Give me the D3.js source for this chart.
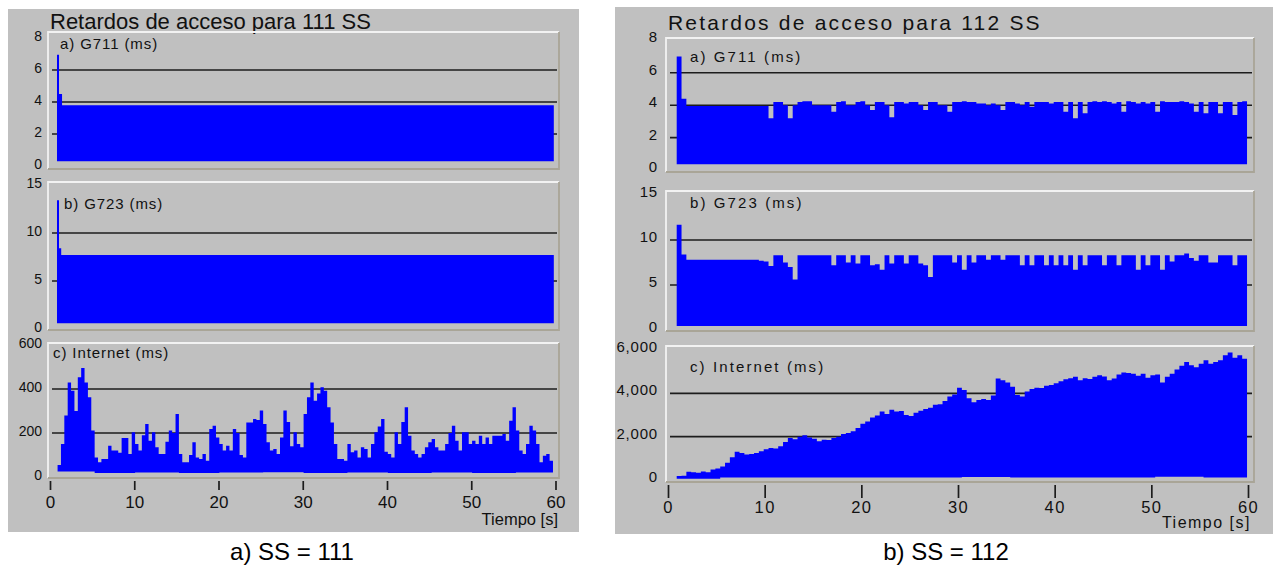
<!DOCTYPE html>
<html><head><meta charset="utf-8">
<script src="https://cdn.jsdelivr.net/npm/d3@7"></script>
<style>
body{margin:0;background:#fff;}
svg{display:block;font-family:"Liberation Sans",Arial,Helvetica,sans-serif;}
</style>
</head><body>
<svg id="c" width="1275" height="566"></svg>
<script>
// ---------------- DATA ----------------
const timeTicks = [0, 10, 20, 30, 40, 50, 60];
const g711Ticks = [0, 2, 4, 6, 8];
const g723Ticks = [0, 5, 10, 15];
const net111Ticks = [0, 200, 400, 600];
const net112Ticks = [0, 2000, 4000, 6000];

const titles = ["Retardos de acceso para 111 SS", "Retardos de acceso para 112 SS"];
const panelLabels = ["a) G711 (ms)", "b) G723 (ms)", "c) Internet (ms)"];
const captions = ["a) SS = 111", "b) SS = 112"];
const axisTitle = "Tiempo [s]";

// SS = 111 : step breakpoints (s) and values (ms)
const g711_111_times = [0.83, 1.07, 1.43, 59.8];
const g711_111_hi = [6.95, 4.5, 3.8];
const g711_111_lo = [0.3, 0.3, 0.3];

const g723_111_times = [0.83, 1.07, 1.33, 59.8];
const g723_111_hi = [13.4, 8.4, 7.7];
const g723_111_lo = [0.6, 0.6, 0.6];

// Internet, SS = 111 : upper envelope every 0.4 s starting at 0.9 s
const net111_start = 0.9, net111_step = 0.4;
const net111_hi = [
  55,150,279,430,392,300,453,495,430,362,
  211,89,67,82,82,142,120,120,110,177,
  177,105,203,150,120,190,241,165,203,135,
  105,105,160,211,200,286,105,67,67,100,
  158,89,82,105,74,218,233,180,150,120,
  142,120,218,200,100,89,248,248,264,259,
  302,241,158,120,127,105,180,302,250,140,
  203,150,135,286,362,430,347,380,408,392,
  317,248,150,82,82,74,150,112,120,89,
  135,127,89,150,203,230,264,115,105,89,
  203,150,250,317,188,120,105,89,105,135,
  158,173,135,120,120,150,200,233,165,120,
  203,203,150,165,150,188,150,180,150,188,
  188,188,195,165,256,317,211,120,105,150,
  233,211,150,67,97,105,74
];
// lower envelope, one value per 5 s
const net111_lo = [25, 18, 20, 18, 20, 22, 18, 20, 18, 20, 18, 20];

// SS = 112 : upper envelopes every 0.5 s starting at 0.9 s
const ss112_start = 0.9, ss112_step = 0.5;
const g711_112_hi = [
  7.0,4.4,3.95,3.95,3.95,3.95,3.95,3.95,3.95,3.95,
  3.95,3.95,3.95,3.95,3.95,3.95,3.95,3.95,3.95,3.2,
  4.2,4.2,4.0,3.2,4.0,4.2,4.25,4.25,4.0,4.0,
  4.0,4.0,3.6,4.2,4.25,4.0,4.0,4.2,4.25,4.0,
  3.7,4.2,4.2,4.0,3.25,4.2,4.2,4.1,4.2,4.2,
  4.0,3.7,4.2,4.2,4.0,4.0,3.6,4.2,4.2,4.25,
  4.2,4.2,4.1,4.1,4.0,4.1,4.0,3.7,4.2,4.2,
  4.1,4.0,4.2,3.9,4.2,4.2,4.2,4.1,4.2,4.2,
  3.6,4.2,3.2,4.2,3.5,4.2,4.25,4.2,4.25,4.2,
  4.1,4.2,3.6,4.25,4.2,4.1,4.2,4.1,4.2,3.6,
  4.25,4.2,4.2,4.2,4.25,4.2,4.1,3.6,4.2,3.5,
  4.2,4.2,3.5,4.2,4.2,3.4,4.2,4.25
];
const g711_112_lo = [0.35];

const g723_112_hi = [
  11.7,8.4,7.8,7.8,7.8,7.8,7.8,7.8,7.8,7.8,
  7.8,7.8,7.8,7.8,7.8,7.8,7.8,7.7,7.6,7.1,
  8.3,8.3,7.5,7.0,5.6,8.3,8.3,8.3,8.3,8.3,
  8.3,8.3,7.2,8.3,8.3,7.5,8.3,7.4,8.3,8.3,
  7.2,7.3,6.7,8.3,7.4,8.3,8.3,7.4,8.3,8.3,
  7.4,7.2,5.9,8.3,8.3,8.3,8.3,7.5,8.3,6.7,
  8.3,7.5,8.3,8.3,7.8,8.3,8.3,7.8,8.3,8.3,
  8.3,7.2,8.3,7.2,8.3,8.3,7.2,8.3,7.2,8.3,
  7.2,8.3,6.7,8.3,7.2,8.3,8.3,8.3,7.2,8.3,
  8.3,7.2,8.3,8.3,8.3,6.7,8.3,7.2,8.3,8.3,
  6.7,8.3,7.6,8.3,8.3,8.5,8.0,7.7,8.3,8.3,
  7.5,7.5,8.3,8.3,8.3,7.2,8.3,8.3
];
const g723_112_lo = [0.45];

const net112_hi = [
  180,200,380,360,340,390,360,490,530,620,
  800,1050,1300,1250,1180,1200,1250,1330,1420,1480,
  1450,1560,1750,1940,1880,2000,2060,1960,1900,1790,
  1860,1850,1940,2000,2120,2170,2250,2400,2600,2700,
  2885,2980,3160,3050,3240,3160,3190,3000,2950,3100,
  3200,3280,3340,3470,3500,3650,3850,3950,4260,4150,
  3770,3590,3690,3740,3690,3900,4690,4600,4500,4300,
  3920,3850,4080,4200,4260,4250,4350,4380,4460,4560,
  4650,4700,4760,4600,4700,4660,4760,4840,4780,4600,
  4690,4870,4960,4940,4900,4810,4900,4720,4840,4870,
  4500,4760,4900,5100,5270,5450,5300,5200,5370,5530,
  5370,5450,5530,5760,5880,5640,5760,5600
];
const net112_lo = [60, 110, 120, 110, 120, 110, 140, 110, 120, 120, 150, 120];

// ---------------- HELPERS ----------------
function uniformTimes(start, step, n) {
  return d3.range(n + 1).map(i => start + i * step);
}
// lower envelope lookup (step function, per-5-second bins or single value)
function lowAt(lo, t) {
  if (lo.length === 1) return lo[0];
  const i = Math.max(0, Math.min(lo.length - 1, Math.floor(t / 5)));
  return lo[i];
}
function buildSeries(times, hi, lo, perSegmentLow) {
  const pts = hi.map((v, i) => ({
    t: times[i], hi: v,
    lo: perSegmentLow ? lo[i] : lowAt(lo, times[i])
  }));
  const last = pts[pts.length - 1];
  pts.push({t: times[times.length - 1], hi: last.hi, lo: last.lo});
  return pts;
}

const svg = d3.select("#c");

function drawChart(cfg) {
  const g = svg.append("g");
  g.append("rect")
    .attr("x", cfg.bg[0]).attr("y", cfg.bg[1])
    .attr("width", cfg.bg[2]).attr("height", cfg.bg[3])
    .attr("fill", "#c0c0c0");

  g.append("text")
    .attr("x", cfg.titleX).attr("y", cfg.titleY)
    .attr("font-size", cfg.titleSize)
    .attr("letter-spacing", cfg.titleLs)
    .attr("fill", "#111")
    .text(cfg.title);

  const x = d3.scaleLinear().domain([0, 60]).range(cfg.xRange);

  cfg.panels.forEach(p => {
    const y = d3.scaleLinear().domain([0, p.ticks[p.ticks.length - 1]]).range(p.yRange);
    const pg = g.append("g");

    // gridlines at interior ticks (drawn beneath the data)
    pg.selectAll("line.grid")
      .data(p.ticks.slice(1, -1))
      .join("line")
      .attr("x1", cfg.gridX[0]).attr("x2", cfg.gridX[1])
      .attr("y1", d => y(d)).attr("y2", d => y(d))
      .attr("stroke", "#1c1c1c").attr("stroke-width", 1.6);

    // data envelope
    const area = d3.area()
      .curve(d3.curveStepAfter)
      .x(d => x(d.t))
      .y0(d => y(d.lo))
      .y1(d => y(d.hi));
    pg.append("path")
      .datum(p.series)
      .attr("d", area)
      .attr("fill", "#0000ff");

    // sunken frame
    const [fx0, fy0, fx1, fy1] = p.frame;
    pg.append("path")
      .attr("d", `M${fx0},${fy1} L${fx0},${fy0} L${fx1},${fy0}`)
      .attr("fill", "none").attr("stroke", "#f2f2f2").attr("stroke-width", 1.8);
    pg.append("path")
      .attr("d", `M${fx1},${fy0} L${fx1},${fy1} L${fx0},${fy1}`)
      .attr("fill", "none").attr("stroke", "#a9a597").attr("stroke-width", 1.8);

    // y tick labels via axis
    const ax = d3.axisLeft(y).tickValues(p.ticks).tickSize(0).tickPadding(0)
      .tickFormat(p.fmt || d3.format("d"));
    const ag = pg.append("g")
      .attr("transform", `translate(${cfg.yLabelX},${cfg.yLabelDy})`)
      .call(ax);
    ag.select(".domain").remove();
    ag.selectAll("text")
      .attr("font-size", cfg.yLabelSize)
      .attr("letter-spacing", cfg.yLabelLs)
      .attr("font-family", '"Liberation Sans",Arial,sans-serif')
      .attr("fill", "#111")
      .attr("x", 0).attr("dy", "0");

    // panel label
    pg.append("text")
      .attr("x", p.labelX).attr("y", p.labelY)
      .attr("font-size", cfg.labelSize)
      .attr("letter-spacing", cfg.labelLs)
      .attr("fill", "#111")
      .text(p.label);
  });

  // x axis
  const xa = d3.axisBottom(x).tickValues(timeTicks).tickSize(cfg.xTickLen)
    .tickPadding(cfg.xTickPad).tickFormat(d3.format("d"));
  const xg = g.append("g")
    .attr("transform", `translate(0,${cfg.xAxisY})`)
    .call(xa);
  xg.select(".domain").remove();
  xg.selectAll(".tick line").attr("stroke", "#1c1c1c").attr("stroke-width", 1.7);
  xg.selectAll("text")
    .attr("font-size", cfg.xLabelSize)
    .attr("letter-spacing", cfg.xLabelLs)
    .attr("font-family", '"Liberation Sans",Arial,sans-serif')
    .attr("fill", "#111");

  g.append("text")
    .attr("x", cfg.tiempoX).attr("y", cfg.tiempoY)
    .attr("text-anchor", "end")
    .attr("font-size", cfg.tiempoSize)
    .attr("letter-spacing", cfg.tiempoLs)
    .attr("fill", "#111")
    .text(axisTitle);

  svg.append("text")
    .attr("x", cfg.capX).attr("y", cfg.capY)
    .attr("text-anchor", "middle")
    .attr("font-size", cfg.capSize)
    .attr("fill", "#000")
    .text(cfg.caption);
}

// ---------------- SERIES ----------------
const s111a = buildSeries(g711_111_times, g711_111_hi, g711_111_lo, true);
const s111b = buildSeries(g723_111_times, g723_111_hi, g723_111_lo, true);
const s111c = buildSeries(uniformTimes(net111_start, net111_step, net111_hi.length), net111_hi, net111_lo, false);
const t112 = uniformTimes(ss112_start, ss112_step, g711_112_hi.length);
const s112a = buildSeries(t112, g711_112_hi, g711_112_lo, false);
const s112b = buildSeries(t112, g723_112_hi, g723_112_lo, false);
const s112c = buildSeries(uniformTimes(ss112_start, ss112_step, net112_hi.length), net112_hi, net112_lo, false);

drawChart({
  bg: [8, 9, 571, 523],
  title: titles[0], titleX: 50, titleY: 29, titleSize: 22, titleLs: 0,
  xRange: [50, 555.5],
  gridX: [52, 557],
  yLabelX: 42, yLabelDy: 2, yLabelSize: 14, yLabelLs: 0,
  labelSize: 15, labelLs: 0.9,
  xAxisY: 481, xTickLen: 9, xTickPad: 6, xLabelSize: 17, xLabelLs: 0,
  tiempoX: 558, tiempoY: 525, tiempoSize: 16.5, tiempoLs: 0,
  caption: captions[0], capX: 292, capY: 560, capSize: 24,
  panels: [
    {frame: [48, 32, 559, 169], ticks: g711Ticks, yRange: [166, 38], series: s111a, label: panelLabels[0], labelX: 60, labelY: 49},
    {frame: [48, 182, 559, 330], ticks: g723Ticks, yRange: [329, 185], series: s111b, label: panelLabels[1], labelX: 64, labelY: 209},
    {frame: [48, 343, 559, 478], ticks: net111Ticks, yRange: [477, 345], series: s111c, label: panelLabels[2], labelX: 53, labelY: 358}
  ]
});

drawChart({
  bg: [615, 7, 658, 527],
  title: titles[1], titleX: 668, titleY: 30, titleSize: 21, titleLs: 2.2,
  xRange: [668, 1248],
  gridX: [670, 1252],
  yLabelX: 658, yLabelDy: 1.5, yLabelSize: 15, yLabelLs: 0.8,
  labelSize: 15, labelLs: 2.1,
  xAxisY: 485, xTickLen: 13, xTickPad: 3, xLabelSize: 16.5, xLabelLs: 1.4,
  tiempoX: 1251, tiempoY: 528, tiempoSize: 16, tiempoLs: 1.5,
  caption: captions[1], capX: 946, capY: 560, capSize: 24,
  panels: [
    {frame: [666, 38, 1254, 172], ticks: g711Ticks, yRange: [170, 40.4], series: s112a, label: panelLabels[0], labelX: 690, labelY: 62},
    {frame: [666, 191, 1254, 331], ticks: g723Ticks, yRange: [330, 195], series: s112b, label: panelLabels[1], labelX: 690, labelY: 208},
    {frame: [666, 346, 1254, 482], ticks: net112Ticks, yRange: [480, 350], series: s112c, label: panelLabels[2], labelX: 690, labelY: 372, fmt: d3.format(",")}
  ]
});
</script>
</body></html>
